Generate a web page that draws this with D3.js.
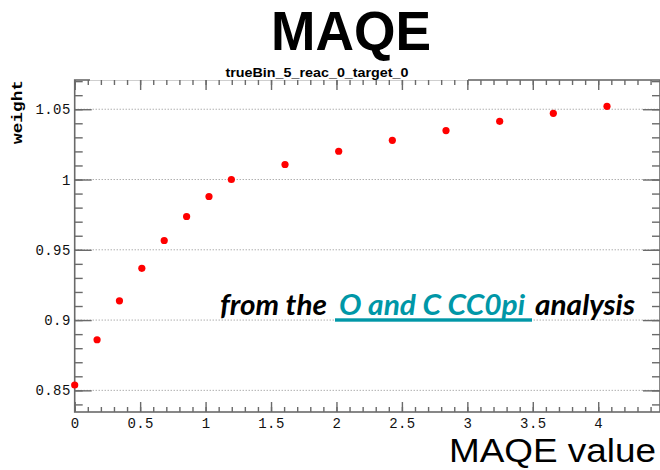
<!DOCTYPE html>
<meta charset="utf-8">
<head>
<style>
  body { margin: 0; background: #fff; }
</style>
</head>
<body>
<!-- Load d3.js -->
<script src="https://d3js.org/d3.v7.min.js"></script>

<div id="my_dataviz"></div>

<script>
    // data: MAQE value vs weight
    var maqeValues = [0, 0.171, 0.342, 0.513, 0.684, 0.855, 1.026, 1.197,
                      1.607, 2.017, 2.427, 2.837, 3.247, 3.657, 4.067];
    var weights = [0.8538, 0.8860, 0.9137, 0.9368, 0.9566, 0.9737, 0.9879, 1.0000,
                   1.0107, 1.0201, 1.0279, 1.0348, 1.0414, 1.0471, 1.0521];
    var xMajorTicks = [0, 0.5, 1, 1.5, 2, 2.5, 3, 3.5, 4];
    var yMajorTicks = [0.85, 0.9, 0.95, 1, 1.05];
    var yTickLabels = ["0.85", "0.9", "0.95", "1", "1.05"];
    var xTickLabels = ["0", "0.5", "1", "1.5", "2", "2.5", "3", "3.5", "4"];

    // minor ticks
    var xMinorTicks = d3.range(0, 45).map(function(i) { return i / 10; });
    var yMinorTicks = d3.range(84, 108).map(function(i) { return i / 100; });

    var W = 660, H = 470;
    var frameLeft = 74.7, frameRight = 660, frameTop = 80, frameBottom = 412;

    var svg = d3.select("#my_dataviz")
      .append("svg")
        .attr("width", W)
        .attr("height", H);

    var x = d3.scaleLinear()
      .domain([0, 4.472])
      .range([frameLeft, frameRight]);

    var y = d3.scaleLinear()
      .domain([0.8346, 1.0708])
      .range([frameBottom, frameTop]);

    var axisColor = "#6a6a6a";

    // grid lines (dotted)
    svg.append("g")
      .selectAll("line")
      .data(yMajorTicks)
      .enter().append("line")
        .attr("x1", frameLeft)
        .attr("x2", frameRight)
        .attr("y1", function(d) { return y(d); })
        .attr("y2", function(d) { return y(d); })
        .attr("stroke", "#8a8a8a")
        .attr("stroke-width", 1)
        .attr("stroke-dasharray", "1,2");

    // frame
    svg.append("rect")
      .attr("x", frameLeft)
      .attr("y", frameTop)
      .attr("width", frameRight - frameLeft)
      .attr("height", frameBottom - frameTop)
      .attr("fill", "none")
      .attr("stroke", axisColor)
      .attr("stroke-width", 1.6);

    // the title box hides part of the top frame line
    svg.append("rect")
      .attr("x", 90)
      .attr("y", 60)
      .attr("width", 378)
      .attr("height", 20.6)
      .attr("fill", "#fff");

    function styleAxis(g) {
      g.select(".domain").remove();
      g.selectAll(".tick line").attr("stroke", axisColor).attr("stroke-width", 1.4);
      g.selectAll("text")
        .attr("font-family", "'Liberation Mono', 'DejaVu Sans Mono', monospace")
        .attr("font-size", "14px")
        .attr("letter-spacing", "0.4px")
        .attr("fill", "#111");
    }

    // bottom axis
    svg.append("g")
      .attr("transform", "translate(0," + frameBottom + ")")
      .call(d3.axisBottom(x).tickValues(xMinorTicks).tickSize(-5).tickFormat(""))
      .call(styleAxis);
    svg.append("g")
      .attr("transform", "translate(0," + frameBottom + ")")
      .call(d3.axisBottom(x).tickValues(xMajorTicks).tickSize(-10).tickPadding(6)
        .tickFormat(function(d, i) { return xTickLabels[i]; }))
      .call(styleAxis);

    // top axis (ticks only)
    svg.append("g")
      .attr("transform", "translate(0," + frameTop + ")")
      .call(d3.axisTop(x).tickValues(xMinorTicks).tickSize(-5).tickFormat(""))
      .call(styleAxis);
    svg.append("g")
      .attr("transform", "translate(0," + frameTop + ")")
      .call(d3.axisTop(x).tickValues(xMajorTicks).tickSize(-10).tickFormat(""))
      .call(styleAxis);

    // left axis
    svg.append("g")
      .attr("transform", "translate(" + frameLeft + ",0)")
      .call(d3.axisLeft(y).tickValues(yMinorTicks).tickSize(-8).tickFormat(""))
      .call(styleAxis);
    svg.append("g")
      .attr("transform", "translate(" + frameLeft + ",0)")
      .call(d3.axisLeft(y).tickValues(yMajorTicks).tickSize(-17).tickPadding(4)
        .tickFormat(function(d, i) { return yTickLabels[i]; }))
      .call(styleAxis);

    // right axis (ticks only)
    svg.append("g")
      .attr("transform", "translate(" + frameRight + ",0)")
      .call(d3.axisRight(y).tickValues(yMinorTicks).tickSize(-8).tickFormat(""))
      .call(styleAxis);
    svg.append("g")
      .attr("transform", "translate(" + frameRight + ",0)")
      .call(d3.axisRight(y).tickValues(yMajorTicks).tickSize(-17).tickFormat(""))
      .call(styleAxis);

    // points
    svg.append("g")
      .selectAll("circle")
      .data(maqeValues)
      .enter().append("circle")
        .attr("cx", function(d) { return x(d); })
        .attr("cy", function(d, i) { return y(weights[i]); })
        .attr("r", 3.6)
        .attr("fill", "#ff0000");

    // titles
    svg.append("text")
      .attr("x", 351)
      .attr("y", 50)
      .attr("text-anchor", "middle")
      .attr("font-family", "'Liberation Sans', Arial, sans-serif")
      .attr("font-weight", "bold")
      .attr("font-size", "55px")
      .attr("textLength", 160)
      .attr("lengthAdjust", "spacingAndGlyphs")
      .text("MAQE");

    svg.append("text")
      .attr("x", 317)
      .attr("y", 77)
      .attr("text-anchor", "middle")
      .attr("font-family", "'Liberation Sans', Arial, sans-serif")
      .attr("font-weight", "bold")
      .attr("font-size", "13px")
      .attr("textLength", 183)
      .attr("lengthAdjust", "spacingAndGlyphs")
      .text("trueBin_5_reac_0_target_0");

    // axis titles
    svg.append("text")
      .attr("x", 656)
      .attr("y", 462)
      .attr("text-anchor", "end")
      .attr("font-family", "'Liberation Sans', Arial, sans-serif")
      .attr("font-size", "34px")
      .attr("textLength", 207)
      .attr("lengthAdjust", "spacingAndGlyphs")
      .text("MAQE value");

    svg.append("text")
      .attr("transform", "translate(22,80) rotate(-90)")
      .attr("text-anchor", "end")
      .attr("font-family", "'Liberation Mono', 'DejaVu Sans Mono', monospace")
      .attr("font-weight", "bold")
      .attr("font-size", "15px")
      .attr("textLength", 64)
      .attr("lengthAdjust", "spacingAndGlyphs")
      .text("weight");

    // annotation
    var noteFont = "Lato, 'Open Sans', sans-serif";
    var teal = "#0097a7";
    var note = svg.append("g")
      .attr("font-family", noteFont)
      .attr("font-style", "italic")
      .attr("font-weight", "bold")
      .attr("font-size", "28px");

    note.append("text")
      .attr("x", 220).attr("y", 315)
      .attr("textLength", 107)
      .attr("lengthAdjust", "spacingAndGlyphs")
      .attr("fill", "#000")
      .text("from the");

    note.append("text")
      .attr("x", 339).attr("y", 315)
      .attr("textLength", 186)
      .attr("lengthAdjust", "spacingAndGlyphs")
      .attr("fill", teal)
      .text("O and C CC0pi");

    note.append("rect")
      .attr("x", 335).attr("y", 318.3)
      .attr("width", 197).attr("height", 3.4)
      .attr("fill", teal);

    note.append("text")
      .attr("x", 535).attr("y", 315)
      .attr("textLength", 100)
      .attr("lengthAdjust", "spacingAndGlyphs")
      .attr("fill", "#000")
      .text("analysis");
</script>
</body>
